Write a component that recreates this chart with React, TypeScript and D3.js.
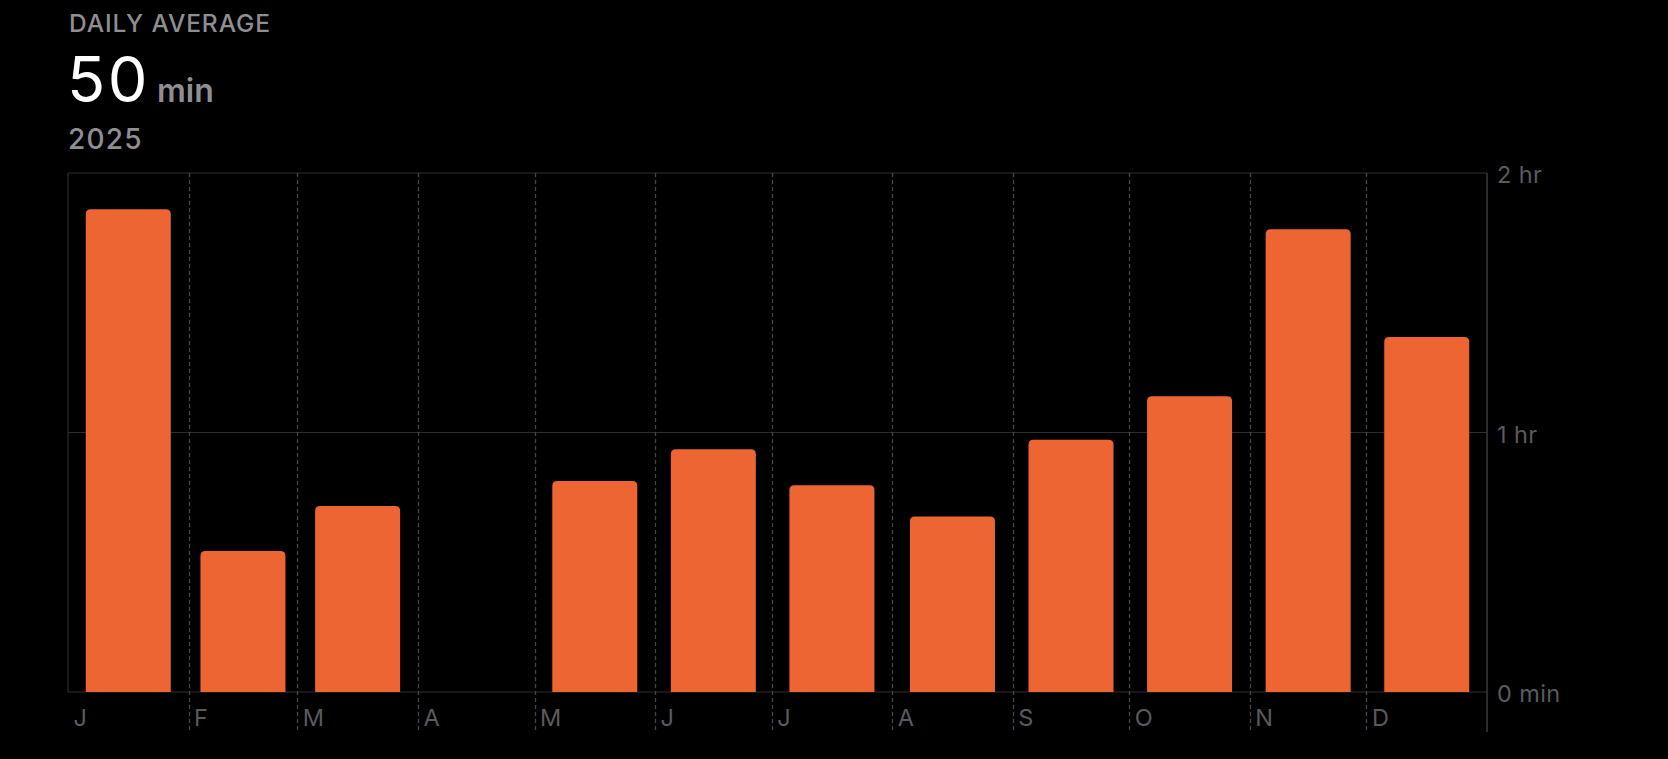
import React from "react";
import * as d3 from "d3";

const months = ["J", "F", "M", "A", "M", "J", "J", "A", "S", "O", "N", "D"];
const minutesPerDay = [111.6, 32.6, 43.0, 0, 48.8, 56.1, 47.8, 40.6, 58.3, 68.4, 107.0, 82.1];
const yTicks = [0, 60, 120];
const yTickLabels = ["0 min", "1 hr", "2 hr"];
const year = 2025;
const headerLabel = "DAILY AVERAGE";
const headerValue = "50";
const headerUnit = "min";

const W = 1668;
const H = 759;
const left = 68;
const right = 1487;
const top = 173;
const bottom = 692;
const axisBottom = 732;
const barW = 85;
const barColor = "#EC6533";
const font = "Inter, 'Noto Sans', sans-serif";

function topRoundedRect(x: number, y: number, w: number, h: number, r: number) {
  if (h <= 0) return "";
  const rr = Math.min(r, h, w / 2);
  return `M${x},${y + h}V${y + rr}Q${x},${y} ${x + rr},${y}H${x + w - rr}Q${x + w},${y} ${x + w},${y + rr}V${y + h}Z`;
}

export default function App() {
  const x = d3
    .scaleTime()
    .domain([new Date(year, 0, 1), new Date(year + 1, 0, 1)])
    .range([left, right]);
  const y = d3.scaleLinear().domain([0, 120]).range([bottom, top]);
  const monthStarts = months.map((_, i) => new Date(year, i, 1));

  return (
    <div style={{ position: "absolute", left: 0, top: 0, width: W, height: H, background: "#000" }}>
      <svg width={W} height={H} style={{ display: "block" }}>
        <rect x={0} y={0} width={W} height={H} fill="#000" />
        {/* header */}
        <text x={69} y={32} fill="#8e8e93" fontFamily={font} fontSize={24.5} fontWeight={500} letterSpacing={0.9}>
          {headerLabel}
        </text>
        <text x={67} y={102} fill="#fff" fontFamily={font} fontSize={63} fontWeight={400} letterSpacing={2.5}>
          {headerValue}
        </text>
        <text x={157} y={102} fill="#8e8e93" fontFamily={font} fontSize={32} fontWeight={600}>
          {headerUnit}
        </text>
        <text x={68} y={149} fill="#8e8e93" fontFamily={font} fontSize={28} fontWeight={500} letterSpacing={1.2}>
          {year}
        </text>

        {/* horizontal gridlines */}
        {yTicks.map((t) => (
          <line key={t} x1={left} x2={right} y1={y(t)} y2={y(t)} stroke="#2e2e30" strokeWidth={1.2} />
        ))}
        {/* left border */}
        <line x1={left} x2={left} y1={top} y2={bottom} stroke="#2e2e30" strokeWidth={1.2} />
        {/* month dashed lines */}
        {monthStarts.slice(1).map((d, i) => (
          <line
            key={i}
            x1={Math.round(x(d)) + 0.5}
            x2={Math.round(x(d)) + 0.5}
            y1={top}
            y2={axisBottom}
            stroke="#454548"
            strokeWidth={1.3}
            strokeDasharray="4,3"
          />
        ))}
        {/* right axis line */}
        <line x1={right} x2={right} y1={top} y2={axisBottom} stroke="#3a3a3c" strokeWidth={1.5} />

        {/* bars */}
        {minutesPerDay.map((v, i) => {
          const s = monthStarts[i];
          const e = new Date(year, i + 1, 1);
          const cx = (x(s) + x(e)) / 2;
          const yt = y(v);
          return (
            <path key={i} d={topRoundedRect(cx - barW / 2, yt, barW, bottom - yt, 5)} fill={barColor} />
          );
        })}

        {/* y labels */}
        {yTicks.map((t, i) => (
          <text key={t} x={1497} y={y(t) + 10} fill="#5a5a5e" fontFamily={font} fontSize={23.5} letterSpacing={0.4}>
            {yTickLabels[i]}
          </text>
        ))}
        {/* month labels */}
        {monthStarts.map((d, i) => (
          <text key={i} x={x(d) + 5.5} y={726} fill="#5a5a5e" fontFamily={font} fontSize={23.5}>
            {months[i]}
          </text>
        ))}
      </svg>
    </div>
  );
}
